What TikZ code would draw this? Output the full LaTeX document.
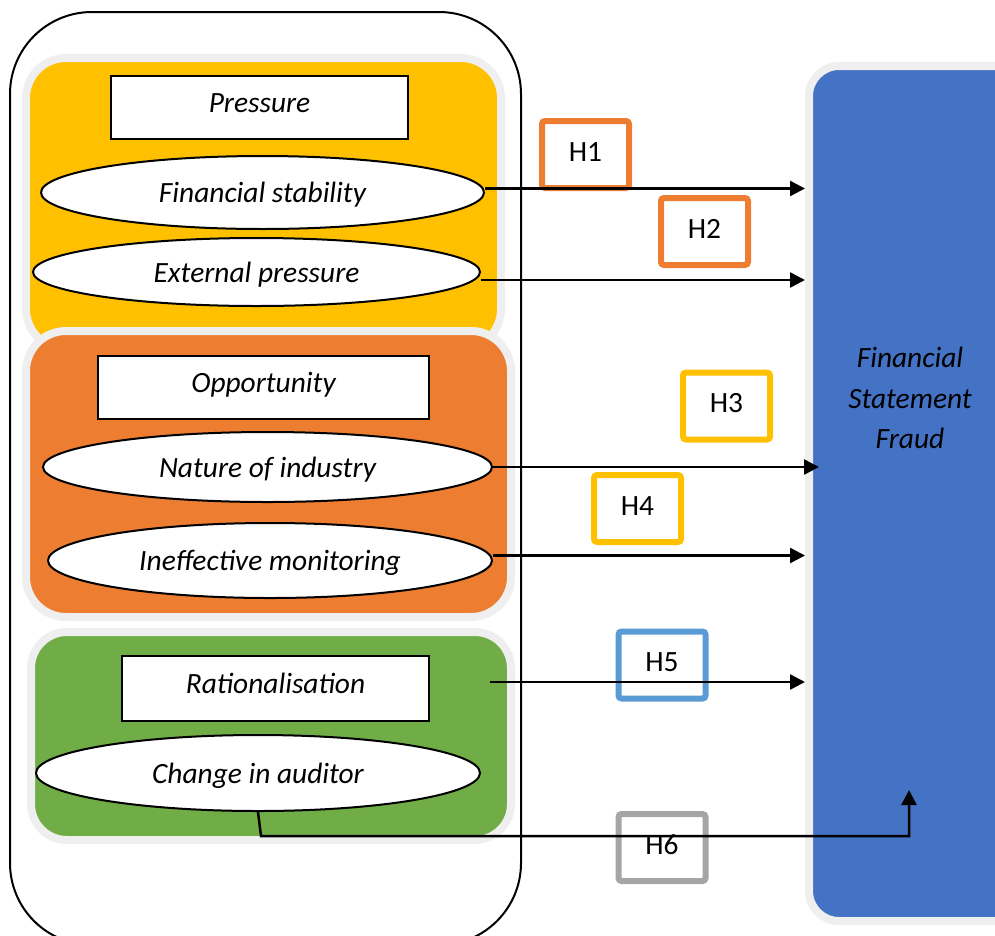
\documentclass[tikz,border=0pt]{standalone}
\usepackage{fontspec}
\setmainfont{Carlito}
\usepackage{tikz}
\usetikzlibrary{shapes,arrows.meta}
\definecolor{ftyellow}{HTML}{FFC000}
\definecolor{ftorange}{HTML}{ED7D31}
\definecolor{ftgreen}{HTML}{70AD47}
\definecolor{ftblue}{HTML}{4472C4}
\definecolor{hblue}{HTML}{5B9BD5}
\definecolor{hgray}{HTML}{A5A5A5}
\definecolor{ringgray}{HTML}{EFEFEF}
\newcommand{\bigfont}{\fontsize{29.4}{40.5}\selectfont}
\tikzstyle{line} = [draw, line width=2.5pt, -{Triangle[length=15pt,width=15pt]}]
\tikzstyle{panel} = [draw=ringgray, line width=8pt, rounded corners=40pt, inner sep=0pt]
\tikzstyle{head} = [draw, fill=white, line width=2pt, inner sep=0pt, text height=19pt, text depth=10pt, font=\bigfont\itshape]
\tikzstyle{factor} = [ellipse, draw, fill=white, line width=2pt, inner sep=0pt, text height=20pt, text depth=0pt, font=\bigfont\itshape]
\tikzstyle{hyp} = [draw, fill=white, line width=6pt, rounded corners=3pt, minimum width=87pt, minimum height=67pt, inner sep=0pt, text height=19pt, text depth=6pt, font=\bigfont]

\begin{document}
\begin{tikzpicture}[x=1pt, y=-1pt]
    \useasboundingbox (0,0) rectangle (995,935);
    % fraud triangle frame
    \node [draw, line width=2pt, rounded corners=82pt, minimum width=511pt, minimum height=933pt] (frame) at (265.5,478.5) {};
    % the three groups
    \node [panel, fill=ftyellow, minimum width=475pt, minimum height=291pt] (pressure) at (263.5,203.5) {};
    \node [panel, fill=ftorange, minimum width=485pt, minimum height=286pt] (opportunity) at (268.5,474) {};
    \node [panel, fill=ftgreen, rounded corners=36pt, minimum width=480pt, minimum height=208pt] (rational) at (271,736) {};
    \node [head, minimum width=297pt, minimum height=63pt] (preshd) at (259.5,107.5) {Pressure};
    \node [head, minimum width=331pt, minimum height=63pt] (opphd) at (263.5,387.5) {Opportunity};
    \node [head, minimum width=307pt, minimum height=65pt] (rathd) at (275.5,688.5) {Rationalisation};
    \node [factor, minimum width=443pt, minimum height=73pt] (fs) at (262.5,192.5) {Financial stability};
    \node [factor, minimum width=447pt, minimum height=68pt] (ep) at (256.5,272) {External pressure};
    \node [factor, minimum width=449pt, minimum height=70pt] (ni) at (267.5,467) {Nature of industry};
    \node [factor, minimum width=444pt, minimum height=75pt] (im) at (270,560.5) {Ineffective monitoring};
    \node [factor, minimum width=444pt, minimum height=76pt] (ca) at (258,773) {Change in auditor};
    % dependent variable
    \node [panel, fill=ftblue, rounded corners=30pt, minimum width=231pt, minimum height=855pt] (fraud) at (924.5,493.5) {};
    \node [font=\bigfont\itshape, align=center] (fraudlbl) at (910,398) {Financial\\Statement\\Fraud};
    % hypotheses
    \node [hyp, draw=ftorange] (h1) at (585.5,154.5) {H1};
    \node [hyp, draw=ftorange] (h2) at (704.5,231.5) {H2};
    \node [hyp, draw=ftyellow] (h3) at (726.5,406) {H3};
    \node [hyp, draw=ftyellow] (h4) at (637.5,508.5) {H4};
    \node [hyp, draw=hblue] (h5) at (662,665) {H5};
    \node [hyp, draw=hgray] (h6) at (662,847.5) {H6};
    \coordinate (ratout) at (490,682);
    \coordinate (caend) at (909,790);
    \path [line] ([yshift=4pt]fs.east) -- ([yshift=4pt]fs.east -| fraud.west);
    \path [line] ([yshift=-8pt]ep.east) -- ([yshift=-8pt]ep.east -| fraud.west);
    \path [line] (ni.east) -- ([xshift=14pt]ni.east -| fraud.west);
    \path [line] ([yshift=5pt]im.east) -- ([yshift=5pt]im.east -| fraud.west);
    \path [line] (ratout) -- (ratout -| fraud.west);
    \path [line] (ca.south) -- ++(3,24) -| (caend);
\end{tikzpicture}
\end{document}
